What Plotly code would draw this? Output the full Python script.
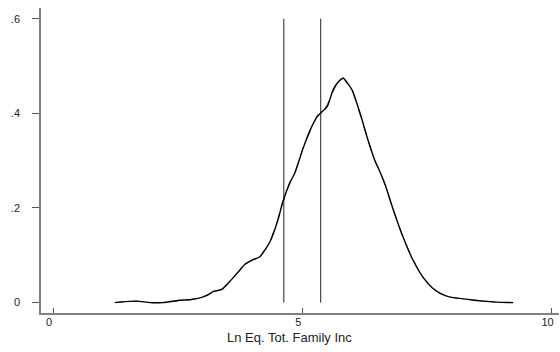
import plotly.graph_objects as go

# Kernel density estimate (solid) of Ln Eq. Tot. Family Inc
x_kd = [1.24, 1.45, 1.68, 1.95, 2.2, 2.55, 2.75, 2.95, 3.1, 3.21, 3.39, 3.55, 3.75, 3.85, 4.0, 4.15,
        4.35, 4.51, 4.61, 4.75, 4.85, 5.02, 5.16, 5.30, 5.40, 5.50, 5.62, 5.72, 5.82, 5.90, 6.0,
        6.16, 6.32, 6.45, 6.56, 6.66, 6.82, 7.02, 7.22, 7.42, 7.60, 7.76, 7.95, 8.12, 8.45,
        8.75, 9.0, 9.23]
y_kd = [0.0, 0.002, 0.003, 0.0, 0.0, 0.005, 0.006, 0.010, 0.016, 0.023, 0.028, 0.045, 0.069, 0.081,
        0.090, 0.097, 0.128, 0.174, 0.213, 0.253, 0.274, 0.327, 0.365, 0.393, 0.404, 0.414, 0.450,
        0.466, 0.474, 0.465, 0.449, 0.400, 0.343, 0.302, 0.276, 0.250, 0.198, 0.139, 0.090,
        0.054, 0.032, 0.020, 0.012, 0.0095, 0.005, 0.002, 0.0005, 0.0]

# Second (dashed) density estimate, almost identical
x_kd2 = x_kd
y_kd2 = [0.0, 0.002, 0.003, 0.0, 0.0, 0.004, 0.007, 0.009, 0.017, 0.022, 0.029, 0.046, 0.068, 0.082,
         0.091, 0.098, 0.127, 0.176, 0.212, 0.255, 0.272, 0.329, 0.363, 0.396, 0.402, 0.418, 0.446,
         0.468, 0.476, 0.463, 0.451, 0.398, 0.345, 0.300, 0.278, 0.248, 0.200, 0.137, 0.091,
         0.053, 0.033, 0.019, 0.012, 0.0090, 0.005, 0.002, 0.0005, 0.0]

# Vertical reference lines
vlines = [4.63, 5.37]
vline_top = 0.6

x_tickvals = [0, 5, 10]
x_ticktext = ["0", "5", "10"]
y_tickvals = [0, 0.2, 0.4, 0.6]
y_ticktext = ["0", ".2", ".4", ".6"]
x_title = "Ln Eq. Tot. Family Inc"

fig = go.Figure()

vx, vy = [], []
for v in vlines:
    vx += [v, v, None]
    vy += [0, vline_top, None]
fig.add_trace(go.Scatter(x=vx, y=vy, mode="lines",
                         line=dict(color="#222222", width=1), hoverinfo="skip"))

fig.add_trace(go.Scatter(x=x_kd2, y=y_kd2, mode="lines",
                         line=dict(color="#555555", width=1, dash="dash")))
fig.add_trace(go.Scatter(x=x_kd, y=y_kd, mode="lines",
                         line=dict(color="black", width=1.4, shape="spline", smoothing=0.6)))

fig.update_layout(
    width=560, height=352,
    margin=dict(l=41, r=1, t=8, b=39),
    paper_bgcolor="white", plot_bgcolor="white",
    showlegend=False,
    font=dict(family="Liberation Sans, Arial, sans-serif", size=11, color="#222222"),
    xaxis=dict(range=[-0.241, 10.15], tickvals=x_tickvals, ticktext=x_ticktext,
               ticks="inside", ticklen=5, tickcolor="#555555", tickwidth=1,
               showline=True, linecolor="#808080", linewidth=1.5,
               showgrid=False, zeroline=False, ticklabelshift=-4, ticklabelstandoff=-2),
    yaxis=dict(range=[-0.022, 0.6226], tickvals=y_tickvals, ticktext=y_ticktext,
               ticks="outside", ticklen=7, tickcolor="#555555", tickwidth=1,
               showline=True, linecolor="#808080", linewidth=1.5,
               showgrid=False, zeroline=False, ticklabelstandoff=10),
    annotations=[dict(text=x_title, xref="paper", yref="paper", x=0.479, y=0,
                      yshift=-24, xanchor="center", yanchor="middle", showarrow=False,
                      font=dict(size=13, color="#222222"))],
)

fig.write_html("out.html")
